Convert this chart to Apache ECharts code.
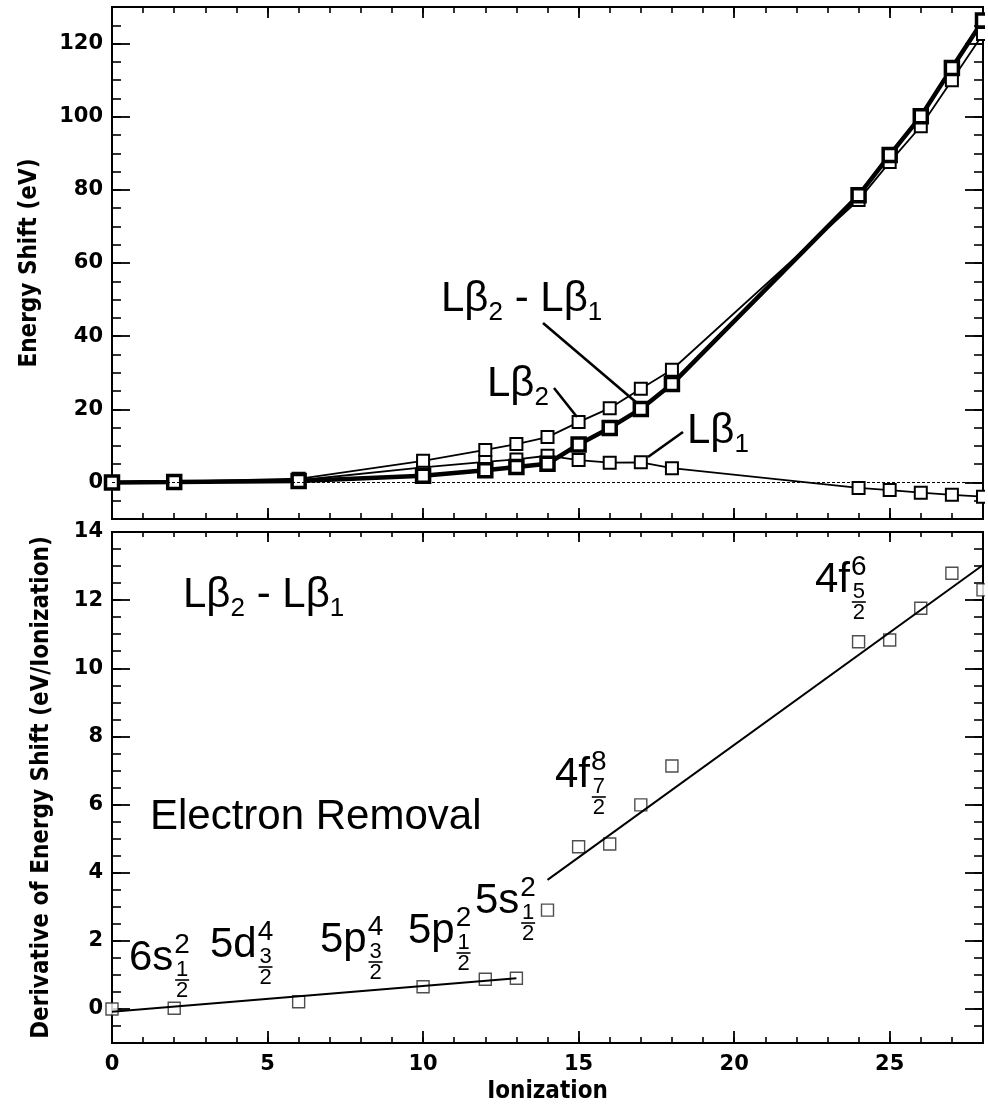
<!DOCTYPE html>
<html>
<head>
<meta charset="utf-8">
<script src="https://cdn.jsdelivr.net/npm/echarts@6/dist/echarts.min.js"></script>
<style>
  html, body { margin: 0; padding: 0; background: #fff; }
  #chart { width: 988px; height: 1108px; }
</style>
</head>
<body>
<div id="chart"></div>
<script>
// ---- data -------------------------------------------------------------
// ionization stages at which the shifts were computed
const ionization = [0, 2, 6, 10, 12, 13, 14, 15, 16, 17, 18, 24, 25, 26, 27, 28];
// energy shift of the L-beta-2 line (eV)
const shiftLb2 = [0, 0.2, 1.0, 5.9, 8.9, 10.5, 12.4, 16.5, 20.3, 25.6, 30.8, 77.2, 87.6, 97.4, 110.0, 122.6];
// energy shift of the L-beta-1 line (eV)
const shiftLb1 = [0, 0.1, 0.6, 4.1, 5.6, 6.3, 7.3, 6.1, 5.4, 5.5, 3.9, -1.5, -2.1, -2.8, -3.4, -3.9];
// separation L-beta-2 minus L-beta-1 (eV)
const shiftDiff = [0, 0.1, 0.4, 1.8, 3.3, 4.2, 5.1, 10.4, 14.9, 20.1, 26.9, 78.5, 89.5, 100.1, 113.3, 126.3];

// derivative of the separation per removed electron (eV / ionization)
const derivative = [0.0, 0.02, 0.21, 0.65, 0.87, 0.90, 2.90, 4.76, 4.84, 5.99, 7.13, 10.78, 10.83, 11.76, 12.79, 12.30];
// straight-line fits through the two shell regimes
const fitOuter = [[0, -0.08], [13, 0.90]];
const fitInner = [[14, 3.79], [28, 13.03]];

// tick labels
const xTicks = [0, 5, 10, 15, 20, 25];
const shiftTicks = [0, 20, 40, 60, 80, 100, 120];
const derivTicks = [0, 2, 4, 6, 8, 10, 12, 14];

// ---- layout -----------------------------------------------------------
const W = 988, H = 1108;
const PLOT_LEFT = 112, PLOT_RIGHT = 5;
const TOP_GRID = { top: 7, height: 512 };
const LOW_GRID = { top: 532, height: 511 };

const BLACK = '#000';
const tickFont = "'DejaVu Sans', 'Liberation Sans', sans-serif";
const titleFont = "'DejaVu Sans Condensed', 'Liberation Sans Narrow', 'Roboto Condensed', 'DejaVu Sans', sans-serif";
const annFont = "'Liberation Sans', Arial, 'Helvetica', sans-serif";

const chart = echarts.init(document.getElementById('chart'), null, { renderer: 'canvas', width: W, height: H });

// two overlaid axes per side: short minor ticks and long major ticks (with labels)
function axisPair(grid, position, range, minorStep, majors, lens, labelStyle, nameOpts) {
  const common = {
    type: 'value', gridIndex: grid, position: position,
    min: range[0], max: range[1], interval: minorStep,
    axisLine: { show: true, onZero: false, lineStyle: { color: BLACK, width: 2 } },
    splitLine: { show: false }
  };
  const minor = Object.assign({}, common, {
    axisTick: { show: true, inside: true, length: lens[0], lineStyle: { color: BLACK, width: 1.6 } },
    axisLabel: { show: false }
  });
  const major = Object.assign({}, common, {
    axisTick: { show: true, inside: true, length: lens[1], customValues: majors, lineStyle: { color: BLACK, width: 1.8 } },
    axisLabel: labelStyle ? Object.assign({ show: true, customValues: majors }, labelStyle) : { show: false }
  }, nameOpts || {});
  return [minor, major];
}

const tickLabelStyle = { color: BLACK, fontFamily: tickFont, fontWeight: 'bold', fontSize: 21 };
const titleStyle = { color: BLACK, fontFamily: titleFont, fontWeight: 'bold', fontSize: 24 };

const xAxis = [].concat(
  axisPair(0, 'bottom', [0, 28], 1, xTicks, [6, 11], null),
  axisPair(0, 'top', [0, 28], 1, xTicks, [6, 11], null),
  axisPair(1, 'bottom', [0, 28], 1, xTicks, [6, 12], Object.assign({ margin: 11 }, tickLabelStyle), {
    name: 'Ionization', nameLocation: 'middle', nameGap: 37, nameTextStyle: titleStyle
  }),
  axisPair(1, 'top', [0, 28], 1, xTicks, [5, 10], null)
);

const yAxis = [].concat(
  axisPair(0, 'left', [-10, 130], 5, shiftTicks, [9, 18], Object.assign({ margin: 9 }, tickLabelStyle), {
    name: 'Energy Shift (eV)', nameLocation: 'middle', nameGap: 70, nameTextStyle: titleStyle
  }),
  axisPair(0, 'right', [-10, 130], 5, shiftTicks, [9, 18], null),
  axisPair(1, 'left', [-1, 14], 0.5, derivTicks, [9, 18], Object.assign({ margin: 9 }, tickLabelStyle), {
    name: 'Derivative of Energy Shift (eV/Ionization)', nameLocation: 'middle', nameGap: 58, nameTextStyle: titleStyle
  }),
  axisPair(1, 'right', [-1, 14], 0.5, derivTicks, [9, 18], null)
);

function pairs(xs, ys) { return xs.map((x, i) => [x, ys[i]]); }

function shiftSeries(name, values, lineWidth, borderWidth, size) {
  return {
    name: name, type: 'line', xAxisIndex: 0, yAxisIndex: 0,
    data: pairs(ionization, values),
    symbol: 'rect', symbolSize: size,
    lineStyle: { color: BLACK, width: lineWidth },
    itemStyle: { color: '#fff', borderColor: BLACK, borderWidth: borderWidth },
    animation: false, silent: true
  };
}

const series = [
  Object.assign(shiftSeries('Lβ1', shiftLb1, 1.8, 2, 12), {
    markLine: {
      silent: true, symbol: 'none', label: { show: false },
      lineStyle: { color: BLACK, width: 1.2, type: [3, 2] },
      data: [{ yAxis: 0 }]
    }
  }),
  shiftSeries('Lβ2', shiftLb2, 1.8, 2, 12),
  shiftSeries('Lβ2 - Lβ1', shiftDiff, 4.5, 3.5, 13),
  {
    name: 'fit outer', type: 'line', xAxisIndex: 4, yAxisIndex: 4, data: fitOuter,
    showSymbol: false, lineStyle: { color: BLACK, width: 2 }, animation: false, silent: true
  },
  {
    name: 'fit inner', type: 'line', xAxisIndex: 4, yAxisIndex: 4, data: fitInner,
    showSymbol: false, lineStyle: { color: BLACK, width: 2 }, animation: false, silent: true
  },
  {
    name: 'derivative', type: 'scatter', xAxisIndex: 4, yAxisIndex: 4,
    data: pairs(ionization, derivative),
    symbol: 'rect', symbolSize: 12,
    itemStyle: { color: '#fff', borderColor: '#222', borderWidth: 1.4 },
    animation: false, silent: true
  }
];

chart.setOption({
  backgroundColor: '#fff',
  animation: false,
  grid: [
    { left: PLOT_LEFT, right: PLOT_RIGHT, top: TOP_GRID.top, height: TOP_GRID.height, containLabel: false },
    { left: PLOT_LEFT, right: PLOT_RIGHT, top: LOW_GRID.top, height: LOW_GRID.height, containLabel: false }
  ],
  xAxis: xAxis,
  yAxis: yAxis,
  series: series
});

// ---- annotations ------------------------------------------------------
const measureCtx = document.createElement('canvas').getContext('2d');
function fontStr(size) { return size + 'px ' + annFont; }
function textWidth(t, size) { measureCtx.font = fontStr(size); return measureCtx.measureText(t).width; }

const graphics = [];
// text whose alphabetic baseline sits at y
function addText(t, x, baseline, size, align) {
  graphics.push({
    type: 'text', silent: true, z: 100,
    x: x, y: baseline - 0.35 * size,
    style: { text: t, font: fontStr(size), fill: BLACK, align: align || 'left', verticalAlign: 'middle' }
  });
}
// a run of segments: [text, size, baseline shift]
function addRun(x, baseline, segments) {
  let cx = x;
  segments.forEach(s => {
    addText(s[0], cx, baseline + (s[2] || 0), s[1]);
    cx += textWidth(s[0], s[1]);
  });
}
function addLine(p1, p2, width) {
  graphics.push({
    type: 'line', silent: true, z: 100,
    shape: { x1: p1[0], y1: p1[1], x2: p2[0], y2: p2[1] },
    style: { stroke: BLACK, lineWidth: width }
  });
}
// orbital label such as 6s with occupancy superscript and j = n/2 fraction
function addOrbital(x, baseline, base, occ, num) {
  const big = 42, sup = 28, frac = 22;
  const bw = textWidth(base, big);
  addText(base, x, baseline, big);
  const sx = x + bw + 1;
  addText(occ, sx, baseline - 18, sup);
  const cx = sx + textWidth(occ, sup) / 2;
  const barY = baseline + 7;
  addText(num, cx, barY - 2, frac, 'center');
  addLine([cx - 7, barY], [cx + 7, barY], 1.6);
  addText('2', cx, barY + 3 + 0.72 * frac, frac, 'center');
}

// marks sitting on the right frame are cut at the plot edge
graphics.push({
  type: 'rect', silent: true, z: 50,
  shape: { x: W - PLOT_RIGHT + 2, y: 0, width: PLOT_RIGHT, height: H },
  style: { fill: '#fff' }
});

const SUB = [26, 8];
// upper panel labels with leader lines
addRun(441, 314, [['Lβ', 42], ['2', SUB[0], SUB[1]], [' - Lβ', 42], ['1', SUB[0], SUB[1]]]);
addLine([543, 323], [637, 403], 2.6);
addRun(487, 399, [['Lβ', 42], ['2', SUB[0], SUB[1]]]);
addLine([554, 388], [577, 417], 2.6);
addRun(687, 446, [['Lβ', 42], ['1', SUB[0], SUB[1]]]);
addLine([683, 432], [648, 457], 2.6);

// lower panel labels
addRun(183, 610, [['Lβ', 42], ['2', SUB[0], SUB[1]], [' - Lβ', 42], ['1', SUB[0], SUB[1]]]);
addRun(150, 832, [['Electron Removal', 42]]);

addOrbital(129, 973, '6s', '2', '1');
addOrbital(210, 960, '5d', '4', '3');
addOrbital(320, 955, '5p', '4', '3');
addOrbital(408, 946, '5p', '2', '1');
addOrbital(475, 916, '5s', '2', '1');
addOrbital(555, 790, '4f', '8', '7');
addOrbital(815, 595, '4f', '6', '5');

chart.setOption({ graphic: { elements: graphics } });
</script>
</body>
</html>
